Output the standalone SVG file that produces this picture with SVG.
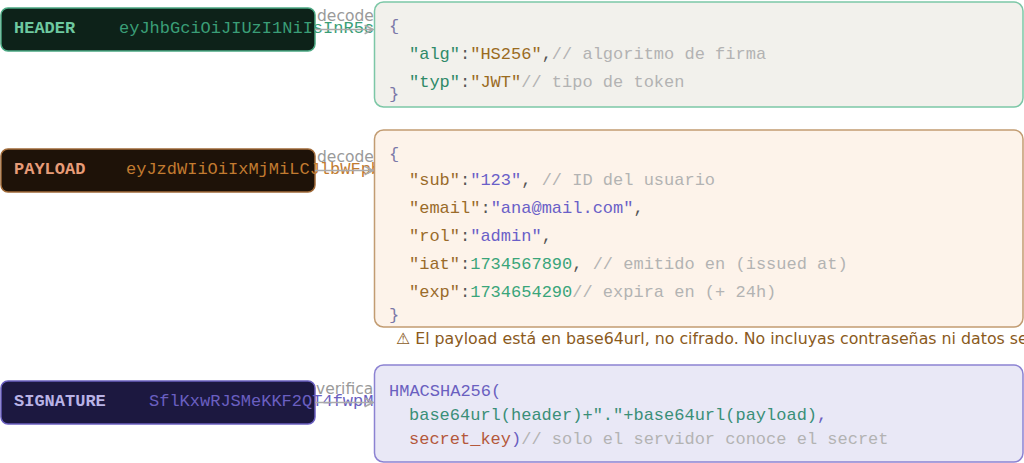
<svg xmlns="http://www.w3.org/2000/svg" width="1024" height="463" viewBox="0 0 1024 463">
<style>
.mono{font-family:"Liberation Mono","Courier New",monospace;font-size:17px}
.lbl{font-weight:bold}
.sans{font-family:"DejaVu Sans","Liberation Sans",sans-serif}
.edge{stroke:#aaaaaa;stroke-width:1.5;fill:none}
.elbl{font-family:"DejaVu Sans","Liberation Sans",sans-serif;font-size:15.5px;fill:#9a9a9a}
.cm{fill:#b3b3b3}
.br{fill:#7a78a8}
.pu{fill:#555555}
</style>
<defs>
<marker id="arr" viewBox="0 0 10 10" refX="9" refY="5" markerWidth="7" markerHeight="7" orient="auto">
<path d="M1,1 L9,5 L1,9" fill="none" stroke="#aaaaaa" stroke-width="1.5"/>
</marker>
</defs>

<g id="node-header">
<rect x="1" y="8" width="314" height="43" rx="7" fill="#0d2219" stroke="#4aa882" stroke-width="1.5"/>
<text class="mono lbl" x="14" y="33" fill="#6ec9a0">HEADER</text>
<text class="mono" x="119" y="33" fill="#3a9e77">eyJhbGciOiJIUzI1NiIsInR5cCI6IkpXVCJ9</text>
</g>
<g id="node-payload">
<rect x="1" y="149" width="314" height="43" rx="7" fill="#1e1208" stroke="#a06a38" stroke-width="1.5"/>
<text class="mono lbl" x="14" y="174" fill="#e89c78">PAYLOAD</text>
<text class="mono" x="126" y="174" fill="#c27b30">eyJzdWIiOiIxMjMiLCJlbWFpbCI6ImFuYUBtYWlsLmNvbSJ9</text>
</g>
<g id="node-signature">
<rect x="1" y="381" width="314" height="43" rx="7" fill="#1c1840" stroke="#6a5fc0" stroke-width="1.5"/>
<text class="mono lbl" x="14" y="406" fill="#b9b3e6">SIGNATURE</text>
<text class="mono" x="149" y="406" fill="#6a5fc0">SflKxwRJSMeKKF2QT4fwpMeJf36POk6yJV_adQssw5c</text>
</g>

<g id="connectors">
<line class="edge" x1="315" y1="29.5" x2="373" y2="29.5" marker-end="url(#arr)"/>
<text class="elbl" x="317" y="21">decode</text>
<line class="edge" x1="315" y1="170.5" x2="373" y2="170.5" marker-end="url(#arr)"/>
<text class="elbl" x="317" y="162">decode</text>
<line class="edge" x1="315" y1="402.5" x2="373" y2="402.5" marker-end="url(#arr)"/>
<text class="elbl" x="316" y="394">verifica</text>
</g>

<g id="code-header">
<rect x="374.5" y="2" width="648.5" height="105" rx="9" fill="#f2f1ec" stroke="#7cc7a6" stroke-width="1.5"/>
<text class="mono br" x="389" y="31">{</text>
<text class="mono" x="409" y="59"><tspan fill="#2f8a68">"alg"</tspan><tspan class="pu">:</tspan><tspan fill="#9a6b1e">"HS256"</tspan><tspan class="pu">,</tspan><tspan class="cm">// algoritmo de firma</tspan></text>
<text class="mono" x="409" y="87"><tspan fill="#2f8a68">"typ"</tspan><tspan class="pu">:</tspan><tspan fill="#9a6b1e">"JWT"</tspan><tspan class="cm">// tipo de token</tspan></text>
<text class="mono br" x="389" y="99">}</text>
</g>

<g id="code-payload">
<rect x="374.5" y="130" width="648.5" height="197" rx="9" fill="#fdf3ea" stroke="#c29c72" stroke-width="1.5"/>
<text class="mono br" x="389" y="159">{</text>
<text class="mono" x="409" y="185"><tspan fill="#9a6b2a">"sub"</tspan><tspan class="pu">:</tspan><tspan fill="#6a5fc8">"123"</tspan><tspan class="pu">,</tspan><tspan class="cm" xml:space="preserve"> // ID del usuario</tspan></text>
<text class="mono" x="409" y="213"><tspan fill="#9a6b2a">"email"</tspan><tspan class="pu">:</tspan><tspan fill="#6a5fc8">"ana@mail.com"</tspan><tspan class="pu">,</tspan></text>
<text class="mono" x="409" y="241"><tspan fill="#9a6b2a">"rol"</tspan><tspan class="pu">:</tspan><tspan fill="#6a5fc8">"admin"</tspan><tspan class="pu">,</tspan></text>
<text class="mono" x="409" y="269"><tspan fill="#9a6b2a">"iat"</tspan><tspan class="pu">:</tspan><tspan fill="#3aa57a">1734567890</tspan><tspan class="pu">,</tspan><tspan class="cm" xml:space="preserve"> // emitido en (issued at)</tspan></text>
<text class="mono" x="409" y="297"><tspan fill="#9a6b2a">"exp"</tspan><tspan class="pu">:</tspan><tspan fill="#3aa57a">1734654290</tspan><tspan class="cm">// expira en (+ 24h)</tspan></text>
<text class="mono br" x="389" y="320">}</text>
</g>

<g id="note-payload">
<text class="sans" x="396" y="344" font-size="15.8" fill="#8a5a1c">⚠ El payload está en base64url, no cifrado. No incluyas contraseñas ni datos sensibles.</text>
</g>

<g id="code-signature">
<rect x="374.5" y="365" width="648.5" height="97" rx="9" fill="#e9e8f6" stroke="#8c82d2" stroke-width="1.5"/>
<text class="mono" x="389" y="396" fill="#6a5fc0">HMACSHA256(</text>
<text class="mono" x="409" y="420"><tspan fill="#3a8f78">base64url(header)+"."+base64url(payload)</tspan><tspan fill="#6a5fc0">,</tspan></text>
<text class="mono" x="409" y="444"><tspan fill="#b4583c">secret_key</tspan><tspan fill="#6a5fc0">)</tspan><tspan class="cm">// solo el servidor conoce el secret</tspan></text>
</g>
</svg>
